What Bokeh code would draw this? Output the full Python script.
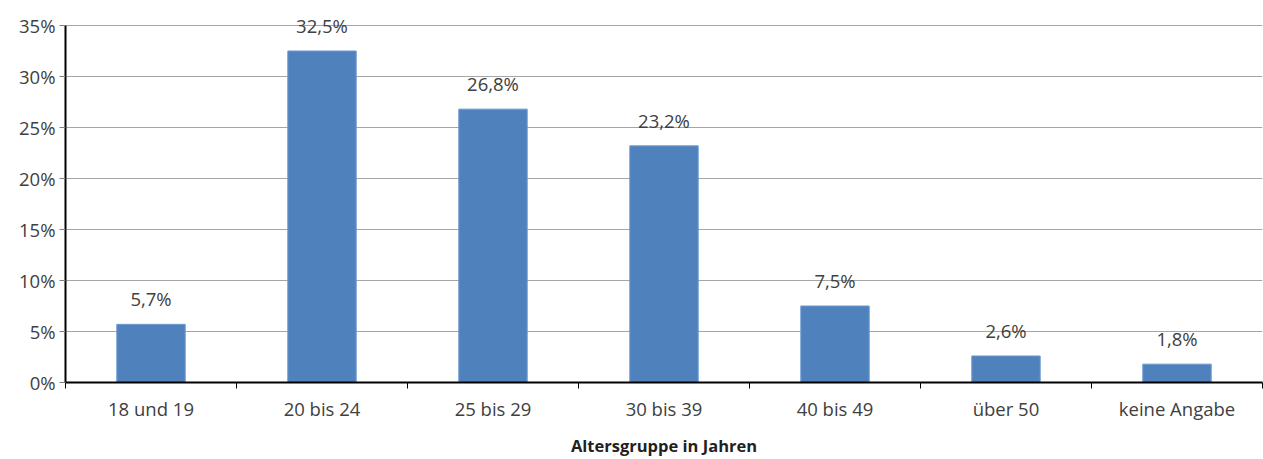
from bokeh.plotting import figure
from bokeh.models import ColumnDataSource, FixedTicker, Range1d
from bokeh.core.properties import value
from bokeh.embed import file_html
from bokeh.resources import INLINE

categories = ["18 und 19", "20 bis 24", "25 bis 29", "30 bis 39", "40 bis 49", "über 50", "keine Angabe"]
shares = [5.7, 32.5, 26.8, 23.2, 7.5, 2.6, 1.8]
share_labels = ["5,7%", "32,5%", "26,8%", "23,2%", "7,5%", "2,6%", "1,8%"]
y_ticks = [0, 5, 10, 15, 20, 25, 30, 35]

n = len(categories)
xs = [i + 0.5 for i in range(n)]
src = ColumnDataSource(dict(x=xs, top=shares, label=share_labels))

p = figure(width=1263, height=459, output_backend="svg", toolbar_location=None,
           x_range=Range1d(0, n), y_range=Range1d(0, 37.45),
           min_border_left=65, min_border_right=1, min_border_top=0, min_border_bottom=76)
p.outline_line_color = None
p.background_fill_color = "white"

p.vbar(x="x", top="top", width=0.4, bottom=0, source=src, fill_color="#4F81BD", line_color="#6B9AD0", line_width=1)
p.text(x="x", y="top", text="label", source=src, text_align="center", text_baseline="bottom",
       y_offset=-13, text_font=value("Open Sans"), text_font_size="18.5px", text_color="#404040")

# x axis
xa = p.xaxis[0]
xa.ticker = FixedTicker(ticks=xs, minor_ticks=list(range(n + 1)))
xa.major_label_overrides = {x: c for x, c in zip(xs, categories)}
xa.major_tick_out = 0
xa.major_tick_in = 0
xa.minor_tick_out = 6
xa.minor_tick_in = 0
xa.minor_tick_line_color = "black"
xa.axis_line_color = "black"
xa.axis_line_width = 2
xa.major_label_text_font = "Open Sans"
xa.major_label_text_font_size = "18.5px"
xa.major_label_text_color = "#404040"
xa.major_label_standoff = 7
xa.axis_label = "Altersgruppe in Jahren"
xa.axis_label_text_font = "Open Sans"
xa.axis_label_text_font_style = "bold"
xa.axis_label_text_font_size = "16.5px"
xa.axis_label_text_color = "#231F20"
xa.axis_label_standoff = 10

# y axis
ya = p.yaxis[0]
ya.ticker = FixedTicker(ticks=y_ticks, minor_ticks=[])
ya.bounds = (0, 35)
ya.major_label_overrides = {t: f"{t}%" for t in y_ticks}
ya.major_tick_out = 6
ya.major_tick_in = 0
ya.major_tick_line_color = "#808080"
ya.axis_line_color = "black"
ya.axis_line_width = 2
ya.major_label_text_font = "Open Sans"
ya.major_label_text_font_size = "18.5px"
ya.major_label_text_color = "#404040"
ya.major_label_standoff = 4

p.xgrid.visible = False
p.ygrid.ticker = FixedTicker(ticks=y_ticks[1:])
p.ygrid.grid_line_color = "#A6A6A6"
p.ygrid.grid_line_width = 1

open("out.html", "w").write(file_html(p, INLINE))
